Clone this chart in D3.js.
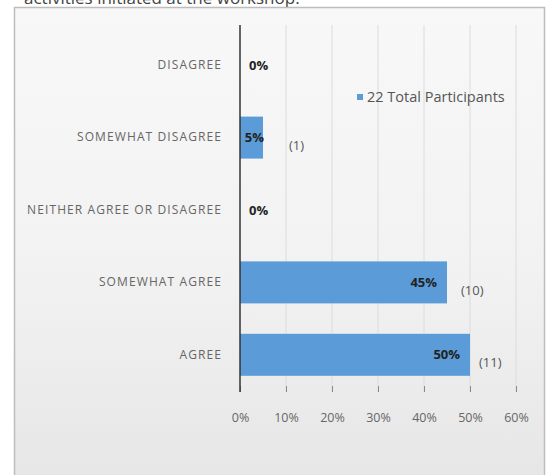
<!DOCTYPE html>
<html>
<head>
<meta charset="utf-8">
<script src="https://cdn.jsdelivr.net/npm/d3@7"></script>
<style>
  html, body { margin: 0; padding: 0; background: #ffffff; }
  svg { display: block; }
  text { font-family: "Open Sans", "DejaVu Sans", sans-serif; }
</style>
</head>
<body>
<svg id="chart" width="550" height="475"></svg>
<script>
// Responses, top to bottom
const categories = ["DISAGREE", "SOMEWHAT DISAGREE", "NEITHER AGREE OR DISAGREE", "SOMEWHAT AGREE", "AGREE"];
const percents = [0, 0.05, 0, 0.45, 0.50];
const counts = [0, 1, 0, 10, 11];
const tickValues = [0, 0.1, 0.2, 0.3, 0.4, 0.5, 0.6];
const tickLabels = ["0%", "10%", "20%", "30%", "40%", "50%", "60%"];
const seriesName = "22 Total Participants";
const titleText = "activities initiated at the workshop.";

const svg = d3.select("#chart");

// soft grey panel background
const defs = svg.append("defs");
const grad = defs.append("linearGradient").attr("id", "panelBg")
  .attr("x1", 0).attr("y1", 0).attr("x2", 0).attr("y2", 1);
grad.append("stop").attr("offset", "0%").attr("stop-color", "#f8f8f8");
grad.append("stop").attr("offset", "55%").attr("stop-color", "#f2f2f2");
grad.append("stop").attr("offset", "100%").attr("stop-color", "#e6e6e6");

svg.append("text")
  .attr("x", 24).attr("y", 4)
  .attr("font-size", 17).attr("fill", "#444")
  .text(titleText);

svg.append("rect")
  .attr("x", 14.5).attr("y", 7.5).attr("width", 530).attr("height", 475)
  .attr("fill", "url(#panelBg)").attr("stroke", "#bdbdbd").attr("stroke-width", 1.5);

const x = d3.scaleLinear().domain([0, 0.6]).range([240, 516]);
const y = d3.scaleBand().domain(categories).range([29, 391])
  .paddingInner(0.42).paddingOuter(0.21);
const yTop = 25, yBottom = 392;

// vertical gridlines
svg.append("g").selectAll("line")
  .data(tickValues.slice(1))
  .join("line")
  .attr("x1", d => x(d)).attr("x2", d => x(d))
  .attr("y1", yTop).attr("y2", yBottom)
  .attr("stroke", "#dcdcdc").attr("stroke-width", 1);

// x axis ticks and labels
const xAxis = d3.axisBottom(x)
  .tickValues(tickValues)
  .tickFormat((d, i) => tickLabels[i])
  .tickSize(6).tickPadding(21);
const gx = svg.append("g").attr("transform", `translate(0,${yBottom - 6})`).call(xAxis);
gx.select(".domain").remove();
gx.selectAll(".tick line").attr("stroke", "#888");
gx.selectAll(".tick text")
  .attr("font-family", "'Open Sans', sans-serif")
  .attr("font-size", 12.5).attr("fill", "#666");

// bars
svg.append("g").selectAll("rect")
  .data(categories)
  .join("rect")
  .attr("x", x(0))
  .attr("y", d => y(d))
  .attr("width", (d, i) => x(percents[i]) - x(0))
  .attr("height", y.bandwidth())
  .attr("fill", "#5b9bd8");

// category axis
const yAxis = d3.axisLeft(y).tickSize(0).tickPadding(18);
const gy = svg.append("g").attr("transform", `translate(${x(0)},0)`).call(yAxis);
gy.select(".domain").remove();
gy.selectAll(".tick text")
  .attr("font-family", "'Open Sans', sans-serif")
  .attr("font-size", 12).attr("letter-spacing", "1.1px").attr("fill", "#666");

svg.append("line")
  .attr("x1", x(0)).attr("x2", x(0))
  .attr("y1", yTop).attr("y2", yBottom)
  .attr("stroke", "#333").attr("stroke-width", 1.5);

// percentage labels
svg.append("g").selectAll("text")
  .data(categories)
  .join("text")
  .attr("font-size", 13).attr("font-weight", "bold").attr("fill", "#222")
  .attr("dy", "0.35em")
  .attr("y", d => y(d) + y.bandwidth() / 2)
  .each(function (d, i) {
    const v = percents[i];
    const t = d3.select(this).text(d3.format(".0%")(v));
    if (x(v) - x(0) > 40) {
      t.attr("x", x(v) - 10).attr("text-anchor", "end");
    } else if (v > 0) {
      t.attr("x", x(v) + 1).attr("text-anchor", "end");
    } else {
      t.attr("x", x(0) + 9).attr("text-anchor", "start");
    }
  });

// respondent counts
const countDx = [0, 26, 0, 14, 9];
svg.append("g").selectAll("text")
  .data(categories.filter((d, i) => counts[i] > 0))
  .join("text")
  .attr("font-size", 13).attr("fill", "#555")
  .attr("dy", "0.35em")
  .attr("x", d => { const i = categories.indexOf(d); return x(percents[i]) + countDx[i]; })
  .attr("y", d => y(d) + y.bandwidth() / 2 + 8)
  .text(d => `(${counts[categories.indexOf(d)]})`);

// legend
const lg = svg.append("g").attr("transform", "translate(357,97)");
lg.append("rect").attr("x", 0).attr("y", -3).attr("width", 6).attr("height", 6).attr("fill", "#5b9bd8");
lg.append("text").attr("x", 10).attr("dy", "0.35em")
  .attr("font-size", 14.5).attr("fill", "#555").text(seriesName);
</script>
</body>
</html>
